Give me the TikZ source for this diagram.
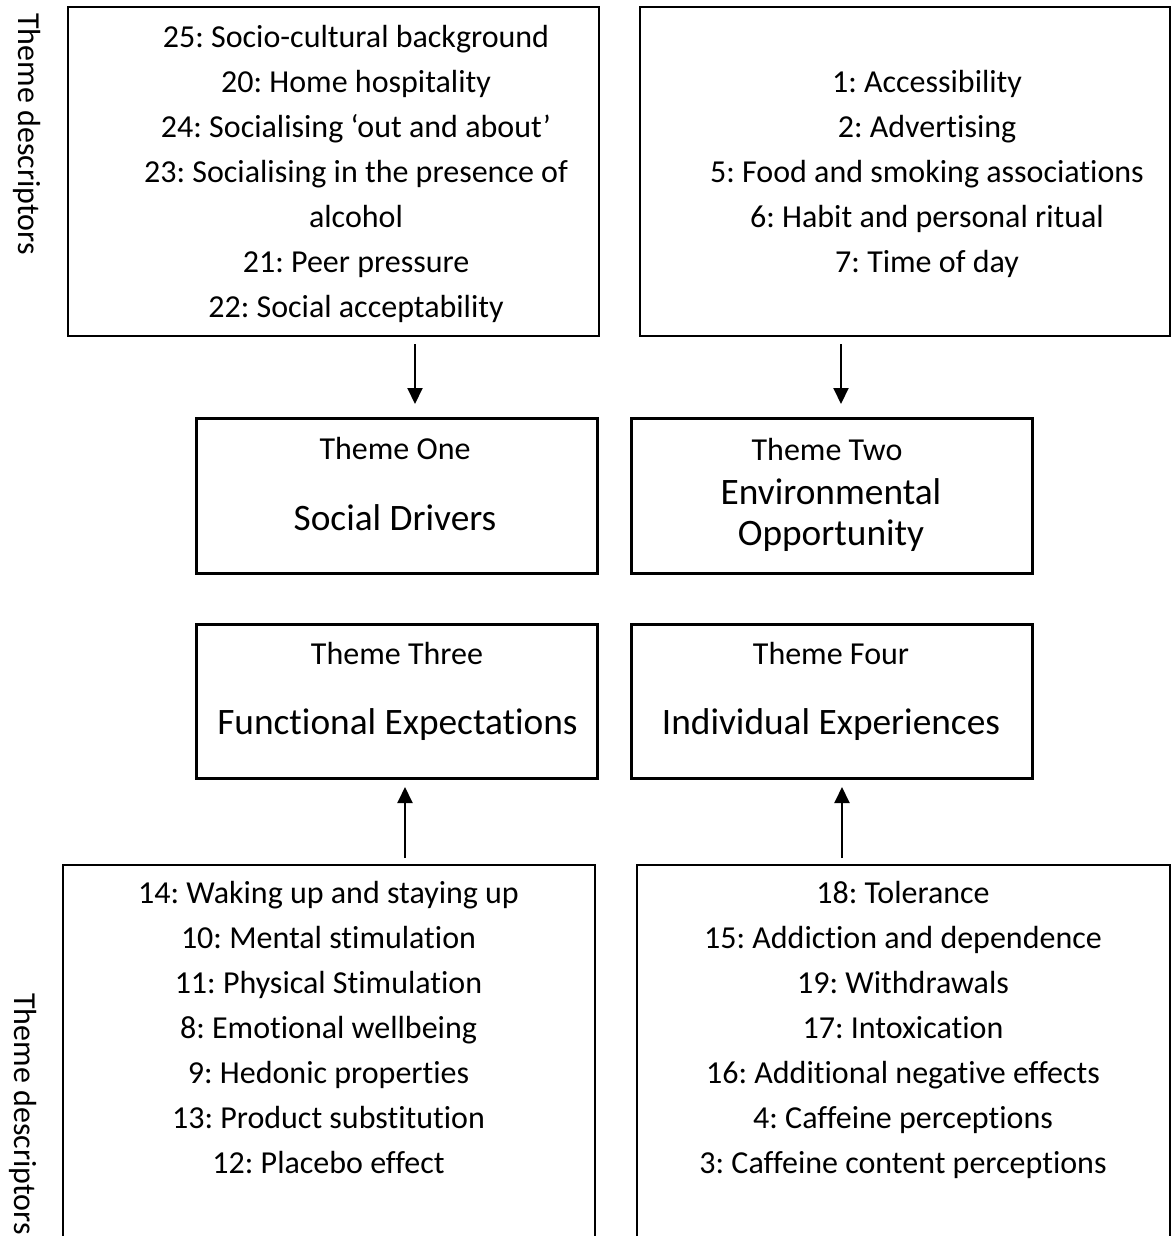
\documentclass[tikz,border=0pt]{standalone}
\usepackage{fontspec}
\setmainfont{Carlito}[Ligatures=NoCommon]
\usetikzlibrary{arrows.meta}
\frenchspacing
\begin{document}
\begin{tikzpicture}[x=0.75pt,y=-0.75pt,
  listbox/.style={draw, line width=1.5pt, inner sep=0pt, outer sep=0pt},
  themebox/.style={draw, line width=2.25pt, inner sep=0pt, outer sep=0pt},
  listtext/.style={anchor=base, inner sep=0pt, font=\fontsize{24}{30}\selectfont},
  smalltitle/.style={anchor=base, inner sep=0pt, font=\fontsize{24}{30}\selectfont},
  bigtitle/.style={anchor=base, inner sep=0pt, font=\fontsize{28}{34}\selectfont},
  sidetext/.style={anchor=base west, rotate=-90, inner sep=0pt, font=\fontsize{24}{30}\selectfont},
  arr/.style={line width=1.5pt, -{Triangle[width=11.25pt,length=12pt]}}
]
\useasboundingbox (0,0) rectangle (1172,1236);
\clip (0,0) rectangle (1172,1236);

% list boxes
\node[listbox, minimum width=398.25pt, minimum height=246.4pt] (tl) at (333.5,171.75) {};
\node[listbox, minimum width=397.5pt, minimum height=246.4pt] (tr) at (905,171.75) {};
\node[listbox, minimum width=399pt, minimum height=296.25pt] (bl) at (329,1062.5) {};
\node[listbox, minimum width=399.75pt, minimum height=296.25pt] (br) at (903.5,1062.5) {};

% theme boxes
\node[themebox, minimum width=300.75pt, minimum height=116.25pt] (t1) at (396.5,495.5) {};
\node[themebox, minimum width=300.75pt, minimum height=116.25pt] (t2) at (831.5,495.5) {};
\node[themebox, minimum width=300.75pt, minimum height=115.5pt] (t3) at (396.5,701) {};
\node[themebox, minimum width=300.75pt, minimum height=115.5pt] (t4) at (831.5,701) {};

% list texts
\foreach \t [count=\i] in {25: Socio-cultural background, 20: Home hospitality, 24: Socialising ‘out and about’, 23: Socialising in the presence of, alcohol, 21: Peer pressure, 22: Social acceptability}
  \node[listtext] (tlt\i) at (356,{47+45*(\i-1)}) {\t};
\foreach \t [count=\i] in {1: Accessibility, 2: Advertising, 5: Food and smoking associations, 6: Habit and personal ritual, 7: Time of day}
  \node[listtext] (trt\i) at (927,{92+45*(\i-1)}) {\t};
\foreach \t [count=\i] in {14: Waking up and staying up, 10: Mental stimulation, 11: Physical Stimulation, 8: Emotional wellbeing, 9: Hedonic properties, 13: Product substitution, 12: Placebo effect}
  \node[listtext] (blt\i) at (328.5,{903+45*(\i-1)}) {\t};
\foreach \t [count=\i] in {18: Tolerance, 15: Addiction and dependence, 19: Withdrawals, 17: Intoxication, 16: Additional negative effects, 4: Caffeine perceptions, 3: Caffeine content perceptions}
  \node[listtext] (brt\i) at (903,{903+45*(\i-1)}) {\t};

% theme texts
\node[smalltitle] (t1a) at (395,459) {Theme One};
\node[bigtitle] (t1b) at (395,530) {Social Drivers};
\node[smalltitle] (t2a) at (827,460) {Theme Two};
\node[bigtitle] (t2b) at (831,504) {Environmental};
\node[bigtitle] (t2c) at (831,545) {Opportunity};
\node[smalltitle] (t3a) at (397,664) {Theme Three};
\node[bigtitle] (t3b) at (397.5,734) {Functional Expectations};
\node[smalltitle] (t4a) at (831,664) {Theme Four};
\node[bigtitle] (t4b) at (831,734) {Individual Experiences};

% side labels
\node[sidetext] (sd1) at (18,13) {Theme descriptors};
\node[sidetext] (sd2) at (14,993) {Theme descriptors};

% arrows
\coordinate (ax1) at (415,0);
\coordinate (ax2) at (841,0);
\coordinate (ax3) at (405,0);
\coordinate (ax4) at (842,0);
\draw[arr, shorten <=6pt, shorten >=10.5pt] (tl.south -| ax1) -- (t1.north -| ax1);
\draw[arr, shorten <=6pt, shorten >=10.5pt] (tr.south -| ax2) -- (t2.north -| ax2);
\draw[arr, shorten <=5.25pt, shorten >=6.75pt] (bl.north -| ax3) -- (t3.south -| ax3);
\draw[arr, shorten <=5.25pt, shorten >=6.75pt] (br.north -| ax4) -- (t4.south -| ax4);
\end{tikzpicture}
\end{document}
